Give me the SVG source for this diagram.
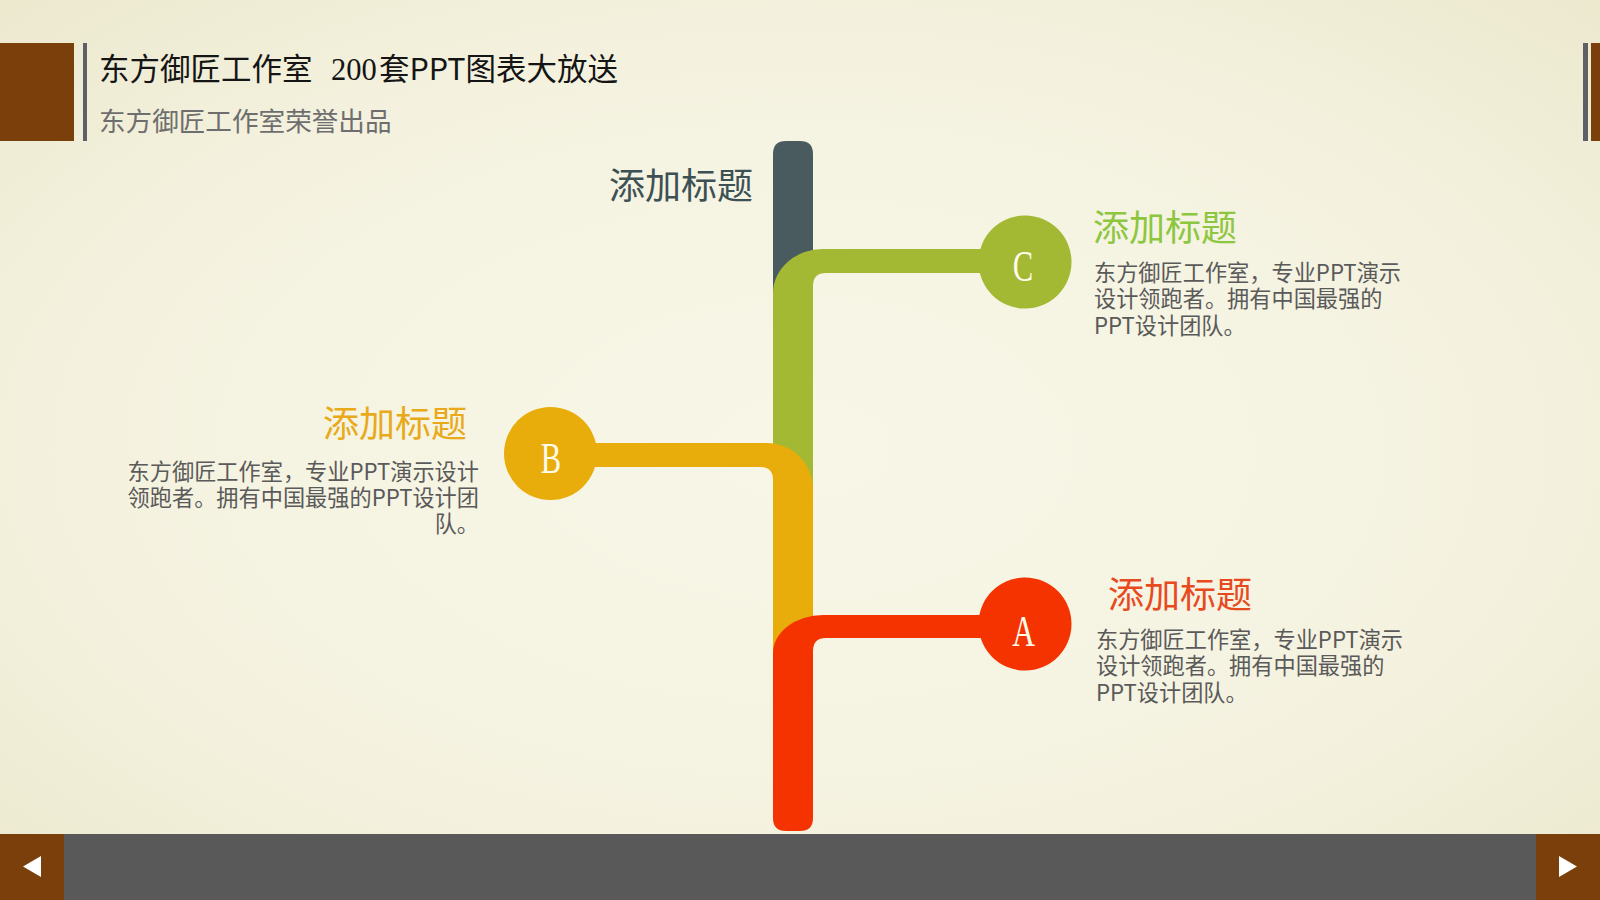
<svg xmlns="http://www.w3.org/2000/svg" width="1600" height="900" viewBox="0 0 1600 900">
  <defs>
    <radialGradient id="bg" cx="50%" cy="50%" r="75%">
      <stop offset="0" stop-color="#f8f6e7"/>
      <stop offset="0.6" stop-color="#f4f2df"/>
      <stop offset="1" stop-color="#ebe7cc"/>
    </radialGradient>
    <style>
      .cjk { font-family: "Noto Sans CJK SC", "Noto Sans", sans-serif; }
      .head { font-size: 36px; }
      .body { font-size: 22.2px; fill: #5a5a5a; }
      .letter { font-family: "Liberation Serif", "Noto Sans CJK SC", serif; font-size: 45px; fill: #fffbea; text-anchor: middle; }
      .brown { fill: #7b3f0b; }
      .bar { fill: #5f5f66; }
    </style>
  </defs>

  <!-- background -->
  <rect x="0" y="0" width="1600" height="900" fill="url(#bg)"/>

  <!-- header -->
  <g id="header">
    <rect class="brown" x="0" y="43" width="74" height="98"/>
    <rect class="bar" x="83" y="43" width="4" height="98"/>
    <rect class="bar" x="1583" y="43" width="5" height="98"/>
    <rect class="brown" x="1591" y="43" width="9" height="98"/>
    <text class="cjk" x="99" y="80" font-size="30.5" fill="#151515">东方御匠工作室<tspan x="331" font-family="Liberation Serif, serif">200</tspan><tspan x="379">套PPT图表大放送</tspan></text>
    <text class="cjk" x="99" y="131" font-size="26.6" fill="#6e6e6e">东方御匠工作室荣誉出品</text>
  </g>

  <!-- footer -->
  <g id="footer">
    <rect x="0" y="834" width="1600" height="66" fill="#595959"/>
    <rect class="brown" x="0" y="834" width="64" height="66"/>
    <rect class="brown" x="1536" y="834" width="64" height="66"/>
    <polygon points="23,866.5 41,856 41,877" fill="#ffffff"/>
    <polygon points="1577,866.5 1559,856 1559,877" fill="#ffffff"/>
  </g>

  <!-- connectors (pipes) -->
  <g id="connectors">
    <path d="M773,320 V154 Q773,141 786,141 H800 Q813,141 813,154 V320 Z" fill="#4a5b5f"/>
    <path d="M773,520 V293 A50,44 0 0 1 823,249 H1000 V273 H826 Q813,273 813,286 V520 Z" fill="#a3b833"/>
    <path d="M560,443 H767 A46,46 0 0 1 813,489 V690 H773 V480 Q773,467 760,467 H560 Z" fill="#e8ad0b"/>
    <path d="M773,653 A50,38 0 0 1 823,615 H1000 V638 H826 Q813,638 813,651 V818 Q813,831 800,831 H786 Q773,831 773,818 Z" fill="#f53300"/>
  </g>

  <!-- center title -->
  <g id="node-top">
    <text class="cjk head" x="609" y="199" fill="#3d5155">添加标题</text>
  </g>

  <!-- node C -->
  <g id="node-C">
    <circle cx="1025" cy="262" r="46.5" fill="#a3b833"/>
    <text class="letter" transform="translate(1023,281) scale(0.68,1)">C</text>
    <text class="cjk head" x="1093" y="241" fill="#8dc63f">添加标题</text>
    <text class="cjk body" x="1094" y="280.5">东方御匠工作室，专业PPT演示<tspan x="1094" dy="26.5">设计领跑者。拥有中国最强的</tspan><tspan x="1094" dy="26.5">PPT设计团队。</tspan></text>
  </g>

  <!-- node B -->
  <g id="node-B">
    <circle cx="550.5" cy="453.5" r="46.5" fill="#e8ad0b"/>
    <text class="letter" transform="translate(551,473) scale(0.68,1)">B</text>
    <text class="cjk head" x="467" y="437" fill="#e8aa1a" text-anchor="end">添加标题</text>
    <text class="cjk body" x="479" y="480" text-anchor="end">东方御匠工作室，专业PPT演示设计<tspan x="479" dy="26">领跑者。拥有中国最强的PPT设计团</tspan><tspan x="479" dy="26">队。</tspan></text>
  </g>

  <!-- node A -->
  <g id="node-A">
    <circle cx="1025" cy="624" r="46.5" fill="#f53300"/>
    <text class="letter" transform="translate(1023.5,646) scale(0.7,1)">A</text>
    <text class="cjk head" x="1108" y="608" fill="#e84a1f">添加标题</text>
    <text class="cjk body" x="1096" y="647.5">东方御匠工作室，专业PPT演示<tspan x="1096" dy="26.5">设计领跑者。拥有中国最强的</tspan><tspan x="1096" dy="26.5">PPT设计团队。</tspan></text>
  </g>
</svg>
